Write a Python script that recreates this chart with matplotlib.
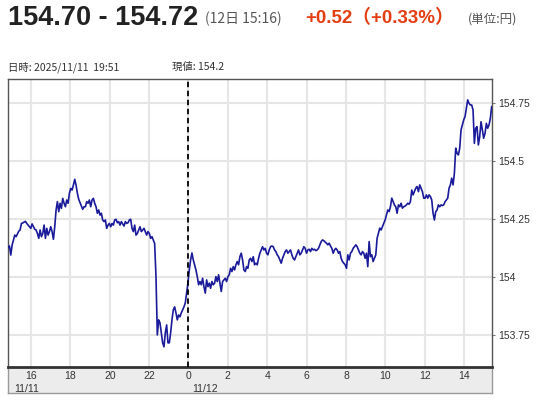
import numpy as np
import matplotlib
matplotlib.use("Agg")
import matplotlib.pyplot as plt

plt.rcParams['font.family'] = ['Noto Sans CJK JP', 'DejaVu Sans']

W, H = 545, 400

# USD/JPY, sampled about every 4 minutes from 11/11 14:50 (hours, 24 = 11/12 0:00)
start_hour = 14.836
step_hour = 0.06768
prices = [
    154.127, 154.133, 154.094, 154.137, 154.159, 154.180, 154.173, 154.185, 154.197, 154.202,
    154.230, 154.232, 154.236, 154.239, 154.230, 154.223, 154.216, 154.209, 154.228, 154.216,
    154.205, 154.202, 154.187, 154.166, 154.202, 154.173, 154.187, 154.223, 154.166, 154.209,
    154.180, 154.195, 154.216, 154.195, 154.162, 154.216, 154.288, 154.324, 154.281, 154.317,
    154.295, 154.338, 154.317, 154.302, 154.331, 154.317, 154.360, 154.381, 154.374, 154.395,
    154.420, 154.395, 154.360, 154.334, 154.319, 154.305, 154.291, 154.302,
    154.302, 154.324, 154.317, 154.331, 154.302, 154.331, 154.338, 154.317, 154.302, 154.274,
    154.288, 154.266, 154.274, 154.245, 154.238, 154.245, 154.209, 154.223, 154.230, 154.216,
    154.230, 154.223, 154.245, 154.248, 154.233, 154.238, 154.223, 154.238, 154.228, 154.219,
    154.238, 154.230, 154.233, 154.245, 154.248, 154.209, 154.195, 154.223, 154.180, 154.187,
    154.202, 154.216, 154.195, 154.202, 154.209, 154.195, 154.180, 154.195, 154.187, 154.166,
    154.173, 154.159, 154.144, 154.001, 153.750, 153.815, 153.802, 153.759, 153.716, 153.699,
    153.759, 153.793, 153.716, 153.716, 153.759, 153.815, 153.858, 153.871, 153.845, 153.815,
    153.836, 153.828, 153.845, 153.858, 153.871, 153.888, 153.931, 153.974,
    154.030, 154.073, 154.103, 154.073, 154.052, 154.030, 154.001, 153.966, 153.980, 153.966,
    153.994, 153.958, 153.930, 153.987, 153.958, 153.973, 153.951, 153.980, 153.966, 153.973,
    154.001, 153.980, 154.009, 153.973, 153.937, 153.980, 153.987, 153.994, 153.980, 154.001,
    154.009, 154.037, 154.023, 154.044, 154.030, 154.052, 154.066, 154.052, 154.087, 154.102,
    154.073, 154.030, 154.023, 154.044, 154.037, 154.073, 154.080, 154.066, 154.087, 154.052,
    154.059, 154.052, 154.080, 154.102, 154.116, 154.130, 154.116, 154.123, 154.102, 154.095,
    154.116, 154.130, 154.133, 154.130, 154.116, 154.109, 154.095, 154.087, 154.073, 154.059,
    154.080, 154.095, 154.109, 154.116, 154.102, 154.109, 154.116, 154.095, 154.080, 154.073,
    154.087, 154.102, 154.116, 154.095, 154.102, 154.116, 154.130, 154.123, 154.102, 154.116,
    154.119, 154.109, 154.123, 154.116, 154.119, 154.113, 154.116, 154.123, 154.138, 154.152,
    154.159, 154.156, 154.150, 154.145, 154.138, 154.145, 154.133, 154.123, 154.102, 154.116,
    154.123, 154.116, 154.102, 154.109, 154.080, 154.066, 154.059, 154.052, 154.037, 154.095,
    154.073, 154.102, 154.109, 154.123, 154.130, 154.138, 154.130, 154.116, 154.102, 154.095,
    154.109, 154.102, 154.080, 154.102, 154.044, 154.152, 154.087, 154.095, 154.066, 154.080,
    154.095, 154.167, 154.188, 154.210, 154.202, 154.216, 154.231, 154.245, 154.267, 154.288,
    154.281, 154.302, 154.339, 154.324, 154.310, 154.302, 154.274, 154.310, 154.302, 154.317,
    154.296, 154.302, 154.305, 154.310, 154.317, 154.313, 154.324, 154.374, 154.353, 154.367,
    154.382, 154.389, 154.367, 154.396, 154.382, 154.367, 154.339, 154.339, 154.353, 154.339,
    154.353, 154.346, 154.331, 154.274, 154.245, 154.281, 154.288, 154.310, 154.302, 154.310,
    154.307, 154.310, 154.324, 154.331, 154.339, 154.382, 154.396, 154.425, 154.396, 154.446,
    154.554, 154.532, 154.525, 154.554, 154.633, 154.654, 154.676, 154.690, 154.726, 154.762,
    154.747, 154.740, 154.740, 154.719, 154.575, 154.640, 154.647, 154.568, 154.604, 154.668,
    154.633, 154.597, 154.618, 154.661, 154.640, 154.654, 154.683, 154.733,
]
hours = start_hour + step_hour * np.arange(len(prices))

x_ticks = list(range(16, 40, 2))
x_labels = [str(h % 24) for h in x_ticks]
y_ticks = [153.75, 154.0, 154.25, 154.5, 154.75]
y_labels = ['153.75', '154', '154.25', '154.5', '154.75']

fig = plt.figure(figsize=(W / 100, H / 100), dpi=100)
fig.patch.set_facecolor('white')

def fx(x):
    return x / W

def fy(y):
    return 1 - y / H

left, right, top, bottom = 8, 492, 79, 367
ax = fig.add_axes([fx(left), fy(bottom), (right - left) / W, (bottom - top) / H])
band = fig.add_axes([fx(left), fy(393), (right - left) / W, (393 - bottom) / H], zorder=-1)
band.set_facecolor('#ececec')
band.set_xticks([])
band.set_yticks([])
for s in band.spines.values():
    s.set_color('#9a9a9a')
    s.set_linewidth(1.0)

ax.plot(hours, prices, color='#1a1a9a', lw=1.2, zorder=3)
ax.axvline(24, color='black', lw=1.3, ls=(0, (3, 2)), zorder=4)

ax.set_xlim(14.83, 39.42)
ax.set_ylim(153.612, 154.852)
ax.set_xticks(x_ticks)
ax.set_xticklabels(x_labels, family=['Liberation Sans', 'DejaVu Sans'])
ax.set_yticks(y_ticks)
ax.set_yticklabels(y_labels, family=['Liberation Sans', 'DejaVu Sans'])
ax.yaxis.tick_right()
ax.grid(True, color='#e6e6e6', lw=1.5, zorder=0)
ax.set_axisbelow(True)
ax.tick_params(axis='x', length=0, pad=3, labelsize=7.5, labelcolor='#333333')
ax.tick_params(axis='y', length=2, width=0.8, color='#777777', pad=2.5,
               labelsize=7.5, labelcolor='#333333')
for s in ax.spines.values():
    s.set_color('#555555')
    s.set_linewidth(1.0)
ax.spines['bottom'].set_linewidth(2.0)
ax.spines['bottom'].set_color('#333333')

# dates under the hour labels
for pos, label in [(15.79, '11/11'), (24.85, '11/12')]:
    ax.text(pos, -0.075, label, transform=ax.get_xaxis_transform(),
            ha='center', va='center', fontsize=7.5, color='#333333',
            family=['Liberation Sans', 'DejaVu Sans'])

# header
fig.text(fx(8), fy(18), '154.70 - 154.72', fontsize=19.5, fontweight='bold',
         family=['Liberation Sans', 'DejaVu Sans'], color='#222222', va='center')
fig.text(fx(205), fy(19), '(12日 15:16)', fontsize=10, color='#555555', va='center')
fig.text(fx(305), fy(18), '+0.52（+0.33%）', fontsize=13.5, fontweight='bold',
         family=['Liberation Sans', 'Noto Sans CJK JP'], color='#e33d12', va='center')
fig.text(fx(468), fy(19), '(単位:円)', fontsize=9, color='#555555', va='center')

fig.text(fx(8), fy(67), '日時: 2025/11/11  19:51', fontsize=7.5, color='#333333', va='center')
fig.text(fx(172), fy(67), '現値: 154.2', fontsize=7.5, color='#333333', va='center')

fig.savefig('out.png', dpi=100)
